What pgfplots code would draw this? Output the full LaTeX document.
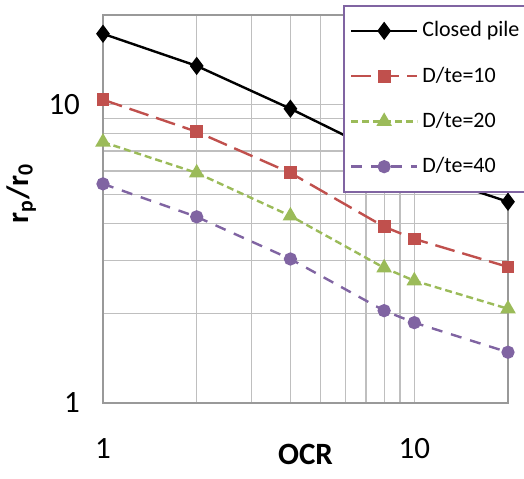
\documentclass[border=0pt]{standalone}
\usepackage{fontspec}
\setmainfont{Carlito}
\usepackage{pgfplots}
\pgfplotsset{compat=1.18}
\definecolor{exred}{HTML}{C0504D}
\definecolor{exgreen}{HTML}{9BBB59}
\definecolor{expurple}{HTML}{8064A2}
\definecolor{gridgray}{HTML}{BFBFBF}
\begin{document}
\begin{tikzpicture}
\useasboundingbox (-51.5pt,-37.5pt) rectangle (210.5pt,201.5pt);
\begin{axis}[
  at={(0pt,0pt)}, anchor=south west,
  scale only axis, width=202.5pt, height=194pt,
  xmode=log, ymode=log,
  xmin=1, xmax=20, ymin=1, ymax=20,
  log basis x=10, log basis y=10,
  xtick={1,10}, ytick={1,10},
  xticklabels={1,10}, yticklabels={1,10},
  minor xtick={2,3,4,5,6,7,8,9,20},
  minor ytick={2,3,4,5,6,7,8,9,20},
  grid=both,
  major grid style={gridgray, line width=0.6pt},
  minor grid style={gridgray, line width=0.6pt},
  tick style={draw=none},
  axis line style={draw=gray!80, line width=0.7pt},
  /pgf/number format/assume math mode=true,
  tick label style={font=\fontsize{15.5}{17}\selectfont},
  xticklabel style={yshift=-14pt},
  yticklabel style={xshift=-8pt},
  xlabel={\textbf{OCR}},
  ylabel={\textbf{r\textsubscript{p}/r\textsubscript{0}}},
  label style={font=\fontsize{15.5}{17}\selectfont},
  xlabel style={at={(axis description cs:0.5,0)}, anchor=north, yshift=-19.5pt, inner sep=1pt},
  ylabel style={at={(axis description cs:0,0.54)}, anchor=south, xshift=0pt, yshift=30pt},
  legend style={at={(axis description cs:0.593,1.026)}, anchor=north west,
    draw=expurple, line width=0.8pt, fill=white,
    font=\fontsize{11}{13}\selectfont,
    row sep=9.5pt, inner xsep=3pt, inner ysep=6pt,
    cells={anchor=west}},
  legend image code/.code={%
    \draw[mark repeat=2,mark phase=2] plot coordinates {(0cm,0cm) (0.58cm,0cm) (1.16cm,0cm)};},
  clip=false,
]
\addplot[black, line width=1.2pt, mark=diamond*, mark size=3.6pt, mark options={solid}]
  coordinates {(1,17.3) (2,13.5) (4,9.7) (8,6.8) (10,6.0) (20,4.73)};
\addlegendentry{Closed pile}
\addplot[exred, line width=1.2pt, dash pattern=on 10pt off 4pt, mark=square*, mark size=2.6pt, mark options={solid}]
  coordinates {(1,10.4) (2,8.12) (4,5.91) (8,3.9) (10,3.55) (20,2.86)};
\addlegendentry{D/te=10}
\addplot[exgreen, line width=1.2pt, dash pattern=on 3.5pt off 2pt, mark=triangle*, mark size=3.3pt, mark options={solid}]
  coordinates {(1,7.5) (2,5.91) (4,4.24) (8,2.84) (10,2.57) (20,2.07)};
\addlegendentry{D/te=20}
\addplot[expurple, line width=1.2pt, dash pattern=on 5.5pt off 4.5pt, mark=*, mark size=2.7pt, mark options={solid}]
  coordinates {(1,5.43) (2,4.21) (4,3.04) (8,2.04) (10,1.86) (20,1.48)};
\addlegendentry{D/te=40}
\end{axis}
\end{tikzpicture}
\end{document}
